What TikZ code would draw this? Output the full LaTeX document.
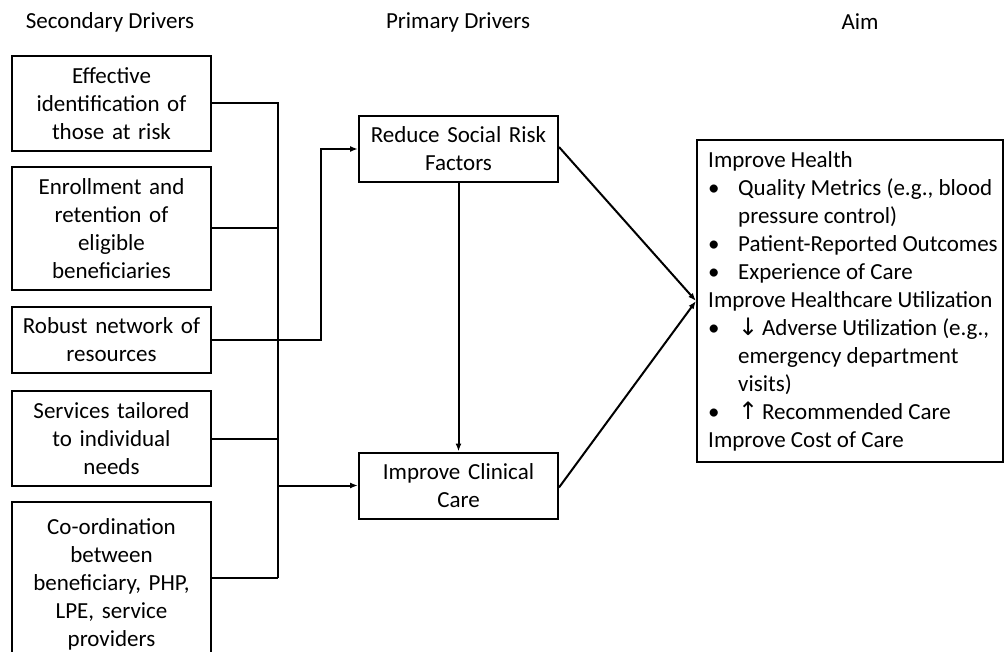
\documentclass[tikz,border=0pt]{standalone}
\usepackage{fontspec}
\setmainfont{Carlito}
\newfontfamily\arrowfont{DejaVu Sans}
\usetikzlibrary{arrows.meta}
\begin{document}
\begin{tikzpicture}[x=1pt,y=-1pt,
  every node/.style={font=\fontsize{23}{28}\selectfont},
  sbox/.style={draw,line width=2pt,minimum width=199pt,inner sep=0pt,align=center,text width=196pt},
  pbox/.style={draw,line width=2pt,minimum width=199pt,minimum height=66pt,inner sep=0pt,align=center,text width=196pt},
  conn/.style={line width=2pt},
  arr/.style={line width=2pt,-{Latex[length=8pt,width=6pt]}},
  head/.style={inner sep=0pt}]
\useasboundingbox (0,0) rectangle (1004,652);
\clip (0,0) rectangle (1004,652);
\fill[white] (0,0) rectangle (1004,652);

% headings
\node[head] (h1) at (110,22) {Secondary Drivers};
\node[head] (h2) at (458,22) {Primary Drivers};
\node[head] (h3) at (860,22) {Aim};

% secondary drivers
\node[sbox,minimum height=95pt]  (s1) at (111.5,103.5) {Effective\\identification of\\those at risk};
\node[sbox,minimum height=123pt] (s2) at (111.5,228.5) {Enrollment and\\retention of\\eligible\\beneficiaries};
\node[sbox,minimum height=66pt]  (s3) at (111.5,340) {Robust network of\\resources};
\node[sbox,minimum height=95pt]  (s4) at (111.5,438.5) {Services tailored\\to individual\\needs};
\node[sbox,minimum height=164pt] (s5) at (111.5,584) {Co-ordination\\between\\beneficiary, PHP,\\LPE, service\\providers};

% primary drivers
\node[pbox] (p1) at (458.5,149) {Reduce Social Risk\\Factors};
\node[pbox] (p2) at (458.5,485.5) {Improve Clinical\\Care};

% aim
\node[draw,line width=2pt,minimum width=306pt,minimum height=322pt,inner sep=0pt] (aim) at (850,301) {};
\node[anchor=north west,inner sep=0pt,align=left] (aimtext) at (708,151)
{Improve Health\\
\makebox[30pt][l]{\textbullet}Quality Metrics (e.g., blood\\
\hspace*{30pt}pressure control)\\
\makebox[30pt][l]{\textbullet}Patient-Reported Outcomes\\
\makebox[30pt][l]{\textbullet}Experience of Care\\
Improve Healthcare Utilization\\
\makebox[30pt][l]{\textbullet}{\arrowfont\fontsize{24}{28}\selectfont ↓}\,Adverse Utilization (e.g.,\\
\hspace*{30pt}emergency department\\
\hspace*{30pt}visits)\\
\makebox[30pt][l]{\textbullet}{\arrowfont\fontsize{24}{28}\selectfont ↑}\,Recommended Care\\
Improve Cost of Care};

% bus
\coordinate (bt) at (278,103.5);
\coordinate (bb) at (278,578);
\coordinate (bj) at (278,485.5);
\coordinate (r3) at (321,340);
\draw[conn] (s1.east) -- (bt) -- (bb);
\draw[conn] (s2.east) -- (s2.east -| bt);
\draw[conn] (s4.east) -- (s4.east -| bt);
\draw[conn] (s5.east |- bb) -- (bb);
\draw[arr] (s3.east) -- (r3) |- (p1.west);
\draw[arr] (bj) -- (p2.west);
\draw[arr] (p1.south) -- (p2.north);
\draw[arr] ([yshift=2pt]p1.east) -- (aim.west);
\draw[arr] ([yshift=-2pt]p2.east) -- (aim.west);
\end{tikzpicture}
\end{document}
